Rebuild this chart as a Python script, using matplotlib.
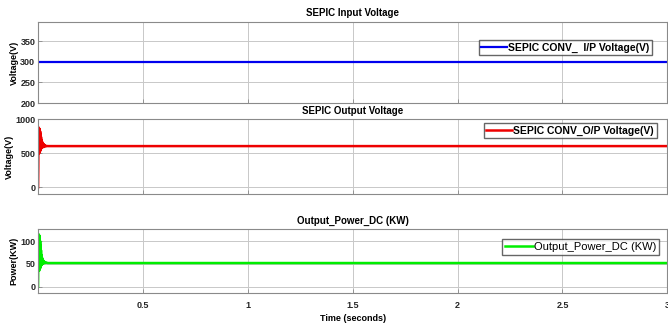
import matplotlib
matplotlib.use("Agg")
import matplotlib.pyplot as plt

plt.rcParams["font.family"] = ["Liberation Sans", "DejaVu Sans"]

# input voltage (constant)
in_t = [0.0, 3.0]
in_v = [300, 300]

out_t = [0, 0.001, 0.002, 0.003, 0.004, 0.005, 0.006, 0.007, 0.008, 0.009,
         0.010, 0.011, 0.012, 0.013, 0.014, 0.015, 0.016, 0.017, 0.018, 0.019,
         0.020, 0.022, 0.024, 0.026, 0.028, 0.030, 0.033, 0.036, 0.040, 0.045,
         0.050, 3.0]
out_v = [0, 300, 880, 520, 870, 500, 860, 510, 850, 530,
         820, 540, 780, 560, 740, 570, 700, 580, 680, 590,
         660, 600, 640, 590, 630, 600, 615, 600, 608, 605,
         605, 605]

# output power transient
pw_t = out_t
pw_v = [0, 60, 115, 40, 114, 35, 112, 38, 110, 40,
        100, 42, 90, 45, 80, 47, 70, 48, 65, 50,
        62, 50, 58, 51, 56, 52, 54, 52, 53, 52,
        52, 52]

x_ticks = [0.5, 1, 1.5, 2, 2.5, 3]
x_labels = ["0.5", "1", "1.5", "2", "2.5", "3"]

fig = plt.figure(figsize=(6.68, 3.23), dpi=100)
ax1 = fig.add_axes([0.057, 0.681, 0.942, 0.251])
ax2 = fig.add_axes([0.057, 0.399, 0.942, 0.232])
ax3 = fig.add_axes([0.057, 0.094, 0.942, 0.196])


def style(ax, yticks):
    ax.set_xlim(0, 3)
    ax.set_xticks(x_ticks)
    ax.set_yticks(yticks)
    ax.grid(True, color="#c8c8c8", lw=0.7)
    ax.set_axisbelow(True)
    for s in ax.spines.values():
        s.set_color("#8a8a8a")
        s.set_linewidth(0.8)
    ax.tick_params(direction="in", length=3, width=0.6, colors="#8a8a8a",
                   labelcolor="#262626", labelsize=6.5, pad=2)
    ax.tick_params(axis="x", pad=6)
    for lb in ax.get_yticklabels() + ax.get_xticklabels():
        lb.set_fontweight("bold")


ax1.plot(in_t, in_v, color="#0000ee", lw=1.6, label="SEPIC CONV_  I/P Voltage(V)")
ax1.set_ylim(200, 397)
style(ax1, [200, 250, 300, 350])
ax1.set_xticklabels([])
ax1.set_ylabel("Voltage(V)", fontsize=6.5, fontweight="bold", labelpad=1)
ax1.set_title("SEPIC Input Voltage", fontsize=7, fontweight="bold", pad=4)
ax1.legend(loc="upper right", bbox_to_anchor=(0.976, 0.78),
           prop={"weight": "bold", "size": 7.5}, frameon=True, fancybox=False,
           edgecolor="#404040", handlelength=2.5, handletextpad=0.1,
           borderpad=0.25, borderaxespad=0)

ax2.plot(out_t, out_v, color="#ee0000", lw=1.8, label="SEPIC CONV_O/P Voltage(V)")
ax2.set_ylim(-100, 1000)
style(ax2, [0, 500, 1000])
ax2.set_xticklabels([])
ax2.set_ylabel("Voltage(V)", fontsize=6.5, fontweight="bold", labelpad=1)
ax2.set_title("SEPIC Output Voltage", fontsize=7, fontweight="bold", pad=4)
ax2.legend(loc="upper right", bbox_to_anchor=(0.983, 0.947),
           prop={"weight": "bold", "size": 7.5}, frameon=True, fancybox=False,
           edgecolor="#404040", handlelength=2.5, handletextpad=0.1,
           borderpad=0.25, borderaxespad=0)

ax3.plot(pw_t, pw_v, color="#00ee00", lw=1.8, label="Output_Power_DC (KW)")
ax3.set_ylim(-13, 126)
style(ax3, [0, 50, 100])
ax3.set_xticklabels(x_labels)
ax3.set_ylabel("Power(KW)", fontsize=6.5, fontweight="bold", labelpad=1)
ax3.set_xlabel("Time (seconds)", fontsize=6.5, fontweight="bold", labelpad=3)
ax3.set_title("Output_Power_DC (KW)", fontsize=7, fontweight="bold", pad=4)
ax3.legend(loc="upper right", bbox_to_anchor=(0.987, 0.847),
           prop={"size": 8}, frameon=True, fancybox=False,
           edgecolor="#404040", handlelength=2.5, handletextpad=0.1,
           borderpad=0.25, borderaxespad=0)

fig.savefig("out.png", dpi=100)
